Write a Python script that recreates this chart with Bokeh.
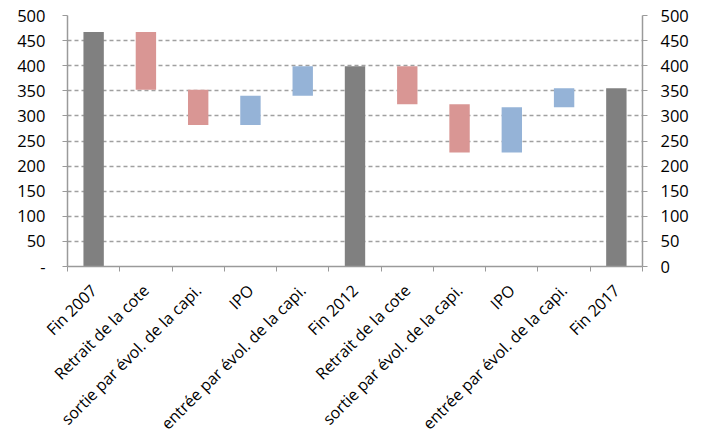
import math
from bokeh.plotting import figure
from bokeh.models import LinearAxis, FixedTicker, Range1d
from bokeh.embed import file_html
from bokeh.resources import INLINE

# Waterfall: stock at end of 2007 / 2012 / 2017 and the flows in between
categories = [
    "Fin 2007", "Retrait de la cote", "sortie par évol. de la capi.", "IPO",
    "entrée par évol. de la capi.", "Fin 2012", "Retrait de la cote",
    "sortie par évol. de la capi.", "IPO", "entrée par évol. de la capi.", "Fin 2017",
]
# None marks a subtotal column (running total drawn from zero)
changes = [467, -115, -70, 58, 59, None, -76, -96, 90, 38, None]
y_ticks = [0, 50, 100, 150, 200, 250, 300, 350, 400, 450, 500]

GREY = "#808080"
RED = "#D99694"
BLUE = "#95B3D7"
FONT = "Open Sans"

xs, bottoms, tops, colors = [], [], [], []
running = 0
for i, ch in enumerate(changes):
    xs.append(i + 0.5)
    if i == 0:
        running = ch
        bottoms.append(0); tops.append(running); colors.append(GREY)
    elif ch is None:
        bottoms.append(0); tops.append(running); colors.append(GREY)
    else:
        start = running
        running = running + ch
        bottoms.append(min(start, running))
        tops.append(max(start, running))
        colors.append(RED if ch < 0 else BLUE)

p = figure(
    width=708, height=445, output_backend="svg", toolbar_location=None,
    x_range=Range1d(0, len(categories)), y_range=Range1d(0, 500),
    y_axis_location=None, x_axis_location=None,
    min_border_left=67, min_border_right=66, min_border_top=15, min_border_bottom=179,
)
p.outline_line_color = None
p.background_fill_color = "white"
p.border_fill_color = "white"

p.vbar(x=xs, bottom=bottoms, top=tops, width=0.39, fill_color=colors, line_color=None)

AXIS_COLOR = "#9a9a9a"

# category axis: labels at column centres, tick marks at column boundaries
centres = [i + 0.5 for i in range(len(categories))]
xticker = FixedTicker(ticks=centres, minor_ticks=list(range(len(categories) + 1)))
xaxis = LinearAxis(ticker=xticker)
xaxis.major_label_overrides = {c: lab for c, lab in zip(centres, categories)}
xaxis.major_label_orientation = math.pi / 4
xaxis.major_tick_out = 0
xaxis.major_tick_in = 0
xaxis.minor_tick_out = 5
xaxis.minor_tick_in = 0
xaxis.minor_tick_line_color = AXIS_COLOR
xaxis.axis_line_color = AXIS_COLOR
xaxis.axis_line_width = 1.5
xaxis.major_label_standoff = 16
xaxis.major_label_text_font = FONT
xaxis.major_label_text_font_size = "16px"
xaxis.major_label_text_color = "black"
p.add_layout(xaxis, "below")

def value_axis(overrides, standoff):
    ax = LinearAxis(ticker=FixedTicker(ticks=y_ticks, minor_ticks=[]))
    ax.major_label_overrides = overrides
    ax.major_tick_out = 5
    ax.major_tick_in = 0
    ax.major_tick_line_color = AXIS_COLOR
    ax.axis_line_color = AXIS_COLOR
    ax.axis_line_width = 1.5
    ax.major_label_standoff = standoff
    ax.major_label_text_font = FONT
    ax.major_label_text_font_size = "16.5px"
    ax.major_label_text_color = "black"
    return ax

p.add_layout(value_axis({0: "-"}, 17), "left")
p.add_layout(value_axis({}, 13), "right")

p.xgrid.visible = False
p.ygrid.ticker = FixedTicker(ticks=y_ticks[1:])
p.ygrid.grid_line_color = "#a0a0a0"
p.ygrid.grid_line_dash = "4 3"
p.ygrid.grid_line_width = 1.5

open("out.html", "w").write(file_html(p, INLINE))
